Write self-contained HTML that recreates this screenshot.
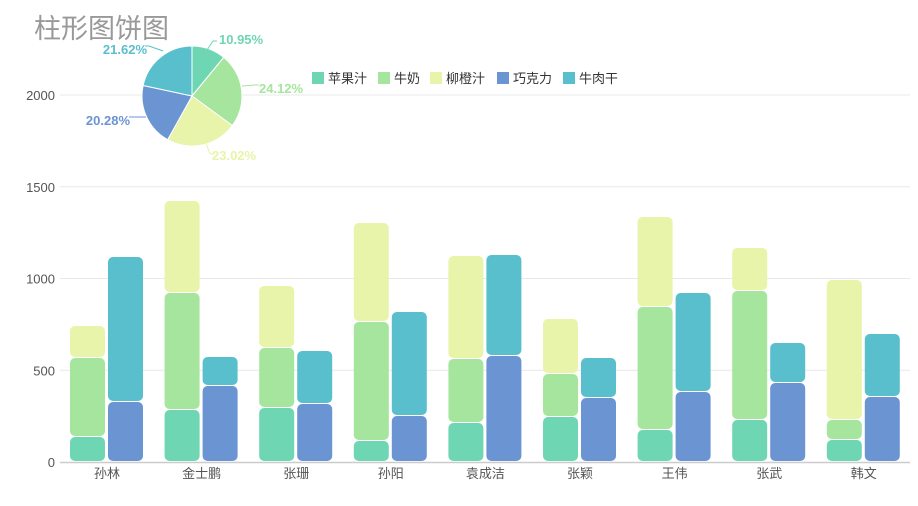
<!DOCTYPE html><html><head><meta charset="utf-8"><style>
body{margin:0;background:#fff;width:918px;height:501px;overflow:hidden}
svg{font-family:"Liberation Sans","Noto Sans CJK SC",sans-serif}
</style></head><body>
<svg id="s" width="918" height="501" xmlns="http://www.w3.org/2000/svg"></svg>
<script>
const s=document.getElementById('s');let h='';
const C=['#6fd6b3','#a6e59d','#e7f4a9','#6b94d3','#5abfcc'];
const Y=v=>462-v*0.1835;
[500,1000,1500,2000].forEach(v=>{h+=`<line x1="60" x2="910" y1="${Y(v)}" y2="${Y(v)}" stroke="#e8e8e8"/>`;h+=`<text x="55" y="${Y(v)+5}" text-anchor="end" font-size="13" fill="#555">${v}</text>`});
h+=`<text x="55" y="467" text-anchor="end" font-size="13" fill="#555">0</text>`;
const names=['孙林','金士鹏','张珊','孙阳','袁成洁','张颖','王伟','张武','韩文'];
const A=[[437,358,326,402,257],[410,293,201,386,357],[408,348,286,404,351],[441,322,223,416,312],[423,359,256,356,255],[417,374,319,398,358],[430,307,217,392,293],[420,291,248,383,343],[440,420,280,397,334]];
const rr=(x,y1,y2,c)=>`<rect x="${x}" y="${y1}" width="35" height="${Math.max(y2-y1-1,1)}" rx="5" fill="${c}"/>`;
names.forEach((n,i)=>{const cx=107+i*94.6,a=A[i],x1=cx-37,x2=cx+1;
h+=rr(x1,a[0],462,C[0])+rr(x1,a[1],a[0],C[1])+rr(x1,a[2],a[1],C[2]);
h+=rr(x2,a[3],462,C[3])+rr(x2,a[4],a[3],C[4]);
h+=`<text x="${cx}" y="478" text-anchor="middle" font-size="13" fill="#555">${n}</text>`});
h+=`<line x1="60" x2="910" y1="462.5" y2="462.5" stroke="#ccc" stroke-width="1.5"/>`;
const P=[10.95,24.12,23.02,20.28,21.62],cx=192,cy=96,r=50;let st=0;
const pt=(f,R)=>[cx+R*Math.sin(f*Math.PI*2),cy-R*Math.cos(f*Math.PI*2)];
P.forEach((p,i)=>{const f0=st/100,f1=(st+p)/100;const[a,b]=pt(f0,r),[c,d]=pt(f1,r);
h+=`<path d="M${cx},${cy}L${a},${b}A${r},${r} 0 ${p>50?1:0} 1 ${c},${d}Z" fill="${C[i]}" stroke="#fff" stroke-width="1"/>`;st+=p});
const L=[[219,44,'start',207,50,213,41],[259,93,'start',242,86,255,85],[212,160,'start',206,143,210,154],[130,125,'end',146,117,133,117],[147,54,'end',163,51,149,46]];
const T=['10.95%','24.12%','23.02%','20.28%','21.62%'];
L.forEach((l,i)=>{h+=`<polyline points="${l[3]},${l[4]} ${l[5]},${l[6]} ${l[2]=='start'?l[5]+4:l[5]-4},${l[6]}" fill="none" stroke="${C[i]}"/>`;
h+=`<text x="${l[0]}" y="${l[1]}" text-anchor="${l[2]}" font-size="13" font-weight="bold" fill="${C[i]}">${T[i]}</text>`});
h+=`<text x="34" y="38" font-size="27" fill="#999">柱形图饼图</text>`;
const lg=[[312,'苹果汁'],[378,'牛奶'],[430,'柳橙汁'],[497,'巧克力'],[563,'牛肉干']];
lg.forEach((g,i)=>{h+=`<rect x="${g[0]}" y="72" width="12" height="12" fill="${C[i]}"/><text x="${g[0]+16}" y="83" font-size="13" fill="#333">${g[1]}</text>`});
s.innerHTML=h;
</script></body></html>
